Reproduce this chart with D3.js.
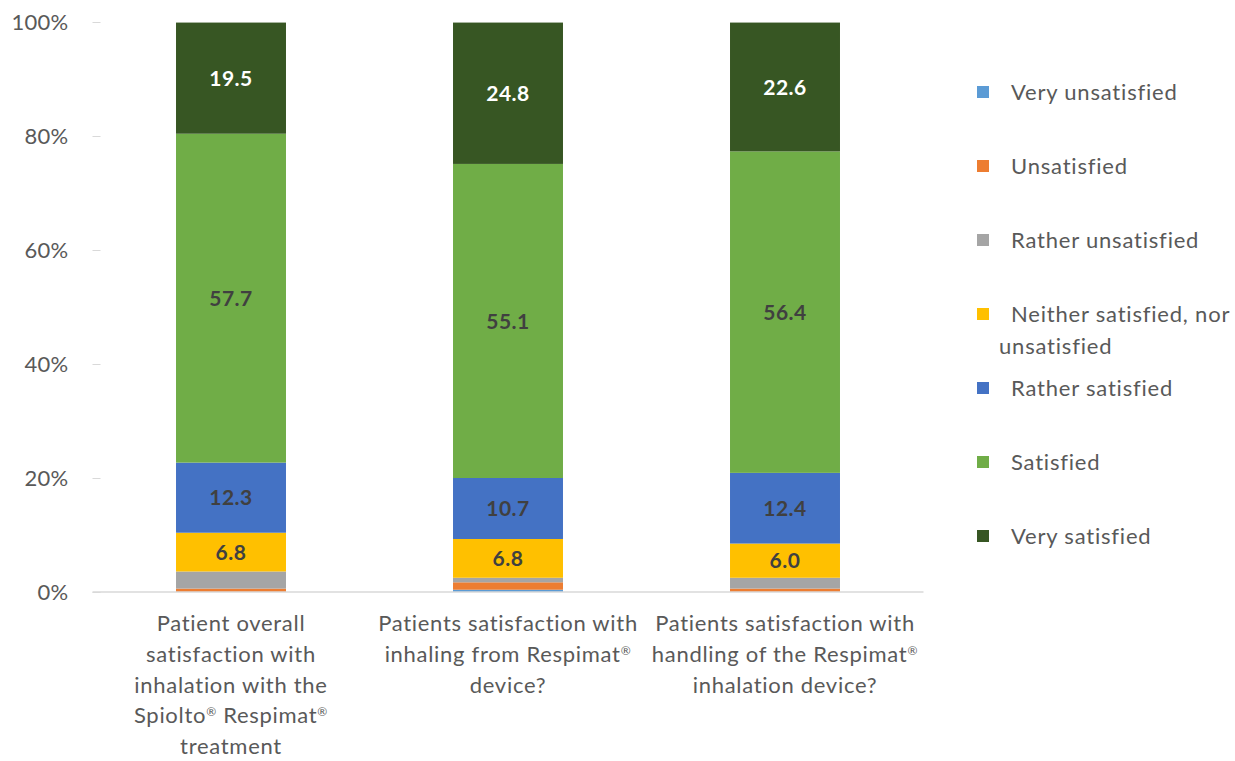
<!DOCTYPE html>
<html>
<head>
<meta charset="utf-8">
<script src="https://cdn.jsdelivr.net/npm/d3@7"></script>
<style>
  html, body { margin: 0; padding: 0; background: #fff; }
  svg { display: block; font-family: Lato, "Open Sans", sans-serif; }
</style>
</head>
<body>
<svg id="chart" width="1235" height="761"></svg>
<script>
// Questions (one stacked bar each); lines are pre-split, "®" is raised
const categories = [
  ["Patient overall", "satisfaction with", "inhalation with the", "Spiolto® Respimat®", "treatment"],
  ["Patients satisfaction with", "inhaling from Respimat®", "device?"],
  ["Patients satisfaction with", "handling of the Respimat®", "inhalation device?"]
];
const seriesNames = [
  "Very unsatisfied", "Unsatisfied", "Rather unsatisfied",
  "Neither satisfied, nor unsatisfied", "Rather satisfied", "Satisfied", "Very satisfied"
];
const seriesColors = ["#5B9BD5", "#ED7D31", "#A5A5A5", "#FFC000", "#4472C4", "#70AD47", "#375623"];

// Percent of patients per answer, one array per answer (bar order)
const veryUnsatisfied    = [0.0, 0.4, 0.0];
const unsatisfied        = [0.6, 1.3, 0.6];
const ratherUnsatisfied  = [3.0, 0.8, 1.9];
const neither            = [6.8, 6.8, 6.0];
const ratherSatisfied    = [12.3, 10.7, 12.4];
const satisfied          = [57.7, 55.1, 56.4];
const verySatisfied      = [19.5, 24.8, 22.6];
const yTicks = [0, 20, 40, 60, 80, 100];
// Only segments large enough carry their value
const labelledSeries = [3, 4, 5, 6];

const seriesValues = [veryUnsatisfied, unsatisfied, ratherUnsatisfied, neither,
                      ratherSatisfied, satisfied, verySatisfied];

const rows = categories.map((c, i) => {
  const r = { idx: i };
  seriesNames.forEach((s, k) => { r[s] = seriesValues[k][i]; });
  return r;
});
const stacked = d3.stack().keys(seriesNames)(rows);

const svg = d3.select("#chart");
const margin = { left: 92.5, right: 311.5, top: 22, bottom: 169 };
const W = 1235, H = 761;

const x = d3.scaleBand()
  .domain(d3.range(categories.length))
  .range([margin.left, W - margin.right])
  .paddingInner(0.603)
  .paddingOuter(0.3015);
const y = d3.scaleLinear().domain([0, 100]).range([H - margin.bottom, margin.top]);

// Y axis: labels and short ticks, no domain line
const yAxis = svg.append("g")
  .attr("transform", `translate(${margin.left},0)`)
  .call(d3.axisLeft(y).tickValues(yTicks).tickFormat(d => d + "%").tickSize(-8).tickPadding(24));
yAxis.select(".domain").remove();
yAxis.selectAll(".tick line").attr("stroke", "#d9d9d9");
yAxis.selectAll(".tick text")
  .attr("fill", "#595959")
  .style("font-size", "22px")
  .style("letter-spacing", "0.3px")
  .style("font-family", "Lato, sans-serif");

// Stacked segments
const groups = svg.append("g").selectAll("g")
  .data(stacked)
  .join("g")
  .attr("fill", (d, i) => seriesColors[i]);
groups.selectAll("rect")
  .data(d => d)
  .join("rect")
  .attr("x", d => x(d.data.idx))
  .attr("width", x.bandwidth())
  .attr("y", d => y(d[1]))
  .attr("height", d => y(d[0]) - y(d[1]));

// Baseline
svg.append("line")
  .attr("x1", margin.left).attr("x2", W - margin.right)
  .attr("y1", y(0)).attr("y2", y(0))
  .attr("stroke", "#d9d9d9").attr("stroke-width", 1.3);

// Value labels
const labelG = svg.append("g")
  .attr("text-anchor", "middle")
  .style("font-size", "21px")
  .style("letter-spacing", "0.5px")
  .style("font-weight", "bold");
labelledSeries.forEach(k => {
  stacked[k].forEach(d => {
    labelG.append("text")
      .attr("x", x(d.data.idx) + x.bandwidth() / 2)
      .attr("y", (y(d[0]) + y(d[1])) / 2)
      .attr("dy", "0.36em")
      .attr("fill", k === 6 ? "#ffffff" : "#404040")
      .text(d3.format(".1f")(d[1] - d[0]));
  });
});

// Write a string, raising each "®"
function writeWithMarks(textSel, str) {
  str.split(/(®)/).filter(s => s.length).forEach(part => {
    if (part === "®") {
      textSel.append("tspan").attr("baseline-shift", "super").style("font-size", "12px").text("®");
    } else {
      textSel.append("tspan").text(part);
    }
  });
}

// Category labels
const catG = svg.append("g")
  .attr("text-anchor", "middle")
  .attr("fill", "#595959")
  .style("font-size", "22px")
  .style("letter-spacing", "0.7px");
categories.forEach((lines, i) => {
  lines.forEach((line, j) => {
    const t = catG.append("text")
      .attr("x", x(i) + x.bandwidth() / 2)
      .attr("y", 631 + j * 30.8);
    writeWithMarks(t, line);
  });
});

// Legend
const legendRows = [
  { k: 0, y: 92 }, { k: 1, y: 166 }, { k: 2, y: 240 },
  { k: 3, y: 314 }, { k: 4, y: 388 }, { k: 5, y: 462 }, { k: 6, y: 536 }
];
const legendLines = {
  3: ["Neither satisfied, nor", "unsatisfied"]
};
const legG = svg.append("g")
  .style("font-size", "22px")
  .style("letter-spacing", "0.8px")
  .attr("fill", "#595959");
legendRows.forEach(r => {
  legG.append("rect")
    .attr("x", 977).attr("y", r.y - 6).attr("width", 12).attr("height", 12)
    .attr("fill", seriesColors[r.k]);
  const lines = legendLines[r.k] || [seriesNames[r.k]];
  legG.append("text").attr("x", 1011).attr("y", r.y).attr("dy", "0.35em").text(lines[0]);
  if (lines[1]) {
    legG.append("text").attr("x", 999).attr("y", r.y + 32).attr("dy", "0.35em").text(lines[1]);
  }
});
</script>
</body>
</html>
